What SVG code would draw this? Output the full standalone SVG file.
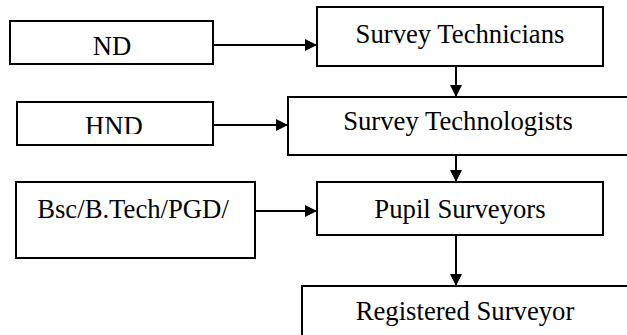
<svg xmlns="http://www.w3.org/2000/svg" width="627" height="335" viewBox="0 0 627 335">
<style>
.box{fill:#fff;stroke:#000;stroke-width:2}
.t{font-size:26.7px;fill:#000;text-anchor:middle}
.c{stroke:#000;stroke-width:2;fill:none}
</style>
<defs>
<marker id="ah" viewBox="0 0 12 12" refX="12" refY="6" markerWidth="12" markerHeight="12" markerUnits="userSpaceOnUse" orient="auto">
<path d="M0,0 L12,6 L0,12 Z" fill="#000"/>
</marker>
<clipPath id="cND"><rect x="10" y="21" width="203" height="34"/></clipPath>
<clipPath id="cHND"><rect x="17" y="102" width="196" height="32"/></clipPath>
</defs>
<rect width="627" height="335" fill="#fff"/>
<g id="nd"><rect class="box" x="10" y="21" width="203" height="43"/><text class="t" font-family="Liberation Serif" x="112" y="55" clip-path="url(#cND)">ND</text></g>
<g id="hnd"><rect class="box" x="17" y="102" width="196" height="43"/><text class="t" font-family="Times New Roman" x="114" y="135" clip-path="url(#cHND)">HND</text></g>
<g id="bsc"><rect class="box" x="16" y="182" width="239" height="76"/><text class="t" font-family="Times New Roman" x="133" y="218">Bsc/B.Tech/PGD/</text></g>
<g id="technicians"><rect class="box" x="317" y="7" width="286" height="59"/><text class="t" font-family="serif" x="460" y="43">Survey Technicians</text></g>
<g id="technologists"><rect class="box" x="288" y="97" width="345" height="58"/><text class="t" font-family="Liberation Serif" x="458" y="130">Survey Technologists</text></g>
<g id="pupil"><rect class="box" x="317" y="182" width="286" height="53"/><text class="t" font-family="serif" x="460" y="218">Pupil Surveyors</text></g>
<g id="registered"><rect class="box" x="302" y="286" width="340" height="60"/><text class="t" style="font-family:'Liberation Serif'" x="465" y="320">Registered Surveyor</text></g>
<g id="connectors">
<line class="c" x1="213" y1="45" x2="317" y2="45" marker-end="url(#ah)"/>
<line class="c" x1="213" y1="125" x2="288" y2="125" marker-end="url(#ah)"/>
<line class="c" x1="255" y1="211" x2="317" y2="211" marker-end="url(#ah)"/>
<line class="c" x1="456" y1="66" x2="456" y2="97" marker-end="url(#ah)"/>
<line class="c" x1="456" y1="155" x2="456" y2="182" marker-end="url(#ah)"/>
<line class="c" x1="456" y1="235" x2="456" y2="286" marker-end="url(#ah)"/>
</g>
</svg>
